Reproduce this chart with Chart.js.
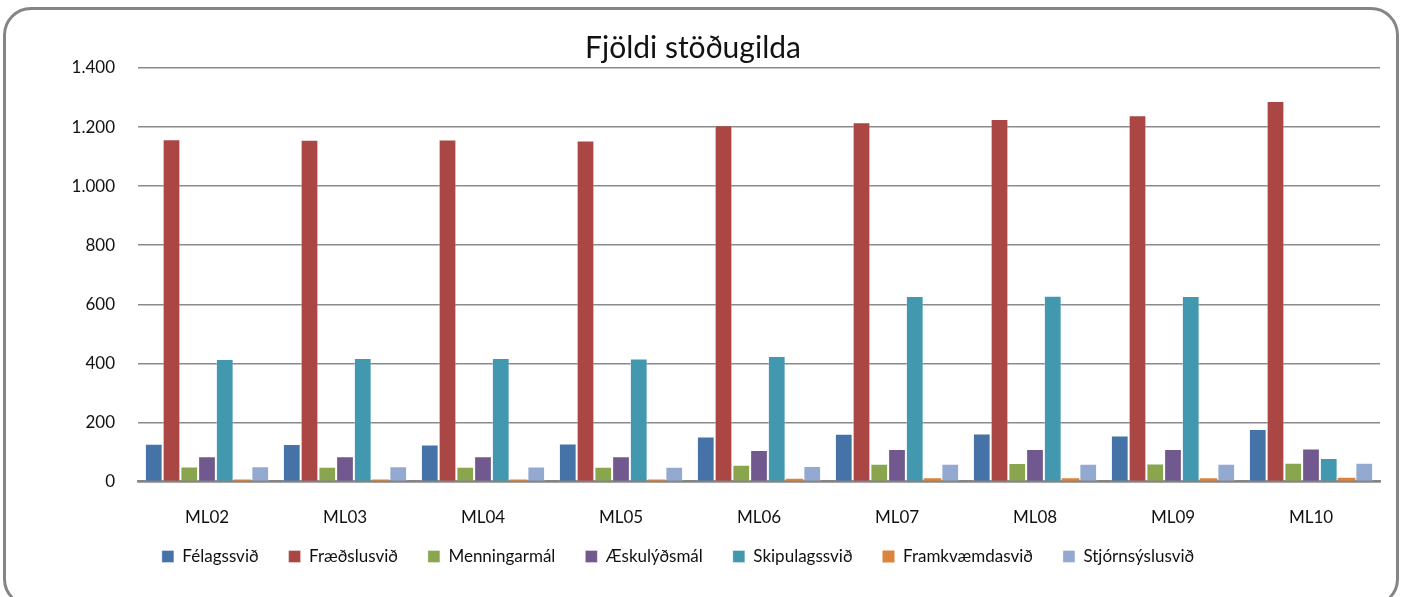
<!DOCTYPE html>
<html>
<head>
<meta charset="utf-8">
<script src="https://cdn.jsdelivr.net/npm/chart.js@4"></script>
<style>
  body { margin: 0; background: #fff; }
  #frame {
    position: absolute; left: 3px; top: 7px; width: 1396px; height: 600px;
    border: 3px solid #858585; border-radius: 28px; box-sizing: border-box;
  }
  #chart { position: absolute; left: 0; top: 0; }
</style>
</head>
<body>
<div id="frame"></div>
<canvas id="chart" width="1407" height="597"></canvas>
<script>
const categories = ["ML02", "ML03", "ML04", "ML05", "ML06", "ML07", "ML08", "ML09", "ML10"];
const seriesNames = ["Félagssvið", "Fræðslusvið", "Menningarmál", "Æskulýðsmál", "Skipulagssvið", "Framkvæmdasvið", "Stjórnsýslusvið"];
const felagssvid = [128, 127, 126, 129, 153, 162, 163, 156, 178];
const fraedslusvid = [1159, 1157, 1158, 1155, 1206, 1216, 1227, 1240, 1288];
const menningarmal = [51, 50, 50, 50, 57, 60, 63, 61, 64];
const aeskulydsmal = [86, 86, 86, 86, 107, 110, 110, 110, 112];
const skipulagssvid = [415, 418, 418, 417, 425, 628, 629, 628, 80];
const framkvaemdasvid = [7, 7, 7, 7, 10, 11, 11, 11, 13];
const stjornsyslusvid = [52, 52, 51, 50, 53, 60, 60, 60, 64];
const yTicks = [0, 200, 400, 600, 800, 1000, 1200, 1400];

const colors = ["#4572A7", "#AA4643", "#89A54E", "#71588F", "#4198AF", "#DB843D", "#93A9CF"];
const values = [felagssvid, fraedslusvid, menningarmal, aeskulydsmal, skipulagssvid, framkvaemdasvid, stjornsyslusvid];

// punktur sem þúsundaskil
function fmt(v) {
  return String(v).replace(/\B(?=(\d{3})+(?!\d))/g, ".");
}

const font = "Lato, 'Open Sans', sans-serif";

// færa skýringar til
const legendShift = {
  id: "legendShift",
  afterLayout: function (chart) {
    const lg = chart.legend;
    lg.left -= 15;
    lg.right -= 15;
    lg.top -= 36;
    lg.bottom -= 36;
  },
};

new Chart(document.getElementById("chart"), {
  type: "bar",
  data: {
    labels: categories,
    datasets: seriesNames.map(function (name, i) {
      return {
        label: name,
        data: values[i],
        backgroundColor: colors[i],
        borderColor: "rgba(255,255,255,0.35)",
        borderWidth: i === 5 ? 0 : 1,
        barPercentage: 1.0,
        categoryPercentage: 0.9,
      };
    }),
  },
  plugins: [legendShift],
  options: {
    responsive: false,
    animation: false,
    devicePixelRatio: 1,
    layout: { padding: { left: 6, right: 27, top: 0, bottom: -14 } },
    scales: {
      x: {
        grid: { display: false, drawTicks: false },
        border: { color: "#858585", width: 2.5 },
        ticks: { color: "#111", font: { family: font, size: 17 }, padding: 26 },
      },
      y: {
        min: 0,
        max: 1400,
        afterBuildTicks: function (axis) {
          axis.ticks = yTicks.map(function (v) { return { value: v }; });
        },
        afterFit: function (axis) { axis.width = 132; },
        grid: { color: "#8a8a8a", lineWidth: 1.6, drawTicks: false },
        border: { display: false },
        ticks: {
          color: "#111",
          font: { family: font, size: 17 },
          padding: 23,
          callback: function (v) { return fmt(v); },
        },
      },
    },
    plugins: {
      title: {
        display: true,
        text: "Fjöldi stöðugilda",
        color: "#111",
        font: { family: font, size: 30, weight: "normal" },
        padding: { top: 30, bottom: 2 },
      },
      legend: {
        position: "bottom",
        labels: {
          color: "#111",
          font: { family: font, size: 17 },
          boxWidth: 12,
          boxHeight: 12,
          padding: 30,
        },
      },
      tooltip: { enabled: false },
    },
  },
});
</script>
</body>
</html>
